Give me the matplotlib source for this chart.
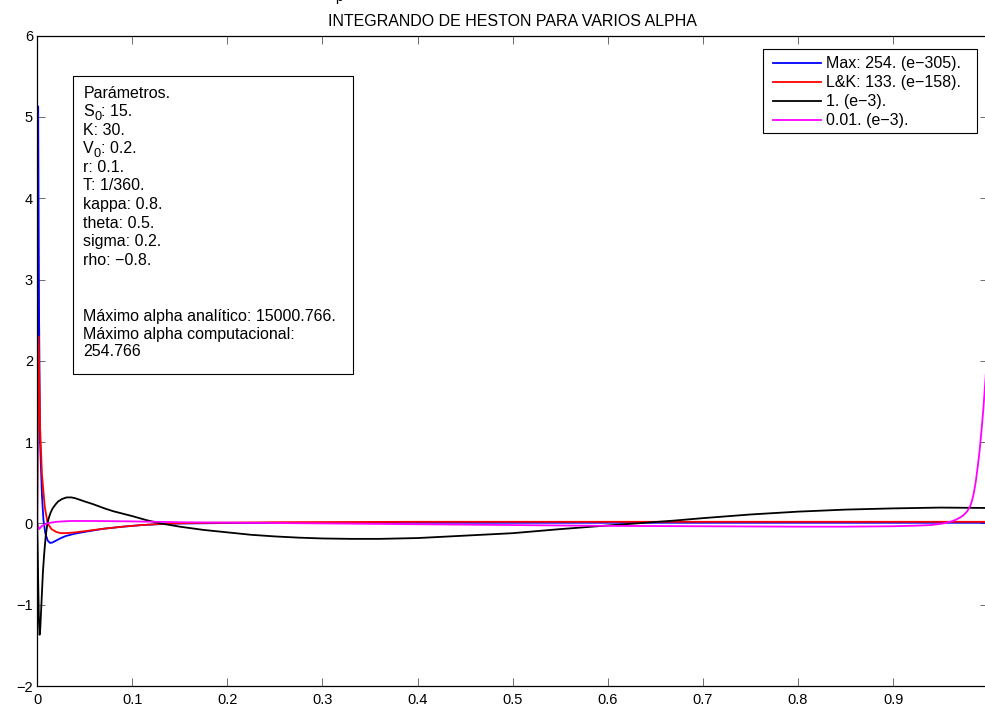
import matplotlib
matplotlib.use("Agg")
import matplotlib.pyplot as plt
from matplotlib.patches import Rectangle

plt.rcParams['font.family'] = ['Liberation Sans', 'DejaVu Sans']

# ############ Datos
x_max = [0, 0.001, 0.002, 0.003, 0.005, 0.0065, 0.0085, 0.011, 0.0135, 0.016, 0.02,
         0.025, 0.03, 0.04, 0.052, 0.07, 0.09, 0.11, 0.14, 0.2, 0.4, 0.6, 0.8, 1.0]
y_max = [0, 5.13, 2.5, 1.0, 0.35, 0.05, -0.12, -0.21, -0.24, -0.235, -0.21,
         -0.18, -0.155, -0.125, -0.1, -0.065, -0.04, -0.02, -0.003, 0.005, 0.008, 0.008, 0.008, 0.008]

x_lk = [0, 0.0015, 0.003, 0.005, 0.008, 0.011, 0.015, 0.02, 0.024, 0.0275, 0.032, 0.04,
        0.05, 0.07, 0.09, 0.11, 0.13, 0.16, 0.25, 0.4, 0.6, 0.8, 1.0]
y_lk = [0, 2.3, 1.2, 0.6, 0.2, 0.0, -0.07, -0.105, -0.118, -0.12, -0.118, -0.11,
        -0.095, -0.065, -0.04, -0.02, -0.005, 0.005, 0.015, 0.02, 0.02, 0.02, 0.02]

x_uno = [0, 0.0005, 0.001, 0.0018, 0.0025, 0.0032, 0.004, 0.005, 0.006, 0.0075, 0.009,
         0.0105, 0.012, 0.014, 0.016, 0.019, 0.022, 0.026, 0.031, 0.036, 0.04, 0.045,
         0.05, 0.058, 0.065, 0.072, 0.08, 0.09, 0.1, 0.115, 0.13, 0.15, 0.175, 0.2, 0.225,
         0.25, 0.275, 0.3, 0.33, 0.36, 0.4, 0.45, 0.5, 0.55, 0.6, 0.63, 0.67, 0.7, 0.75,
         0.8, 0.85, 0.9, 0.95, 1.0]
y_uno = [0, -0.3, -0.7, -1.2, -1.37, -1.3, -1.1, -0.85, -0.6, -0.35, -0.15,
         -0.02, 0.06, 0.13, 0.18, 0.23, 0.27, 0.3, 0.32, 0.32, 0.31, 0.29,
         0.27, 0.24, 0.21, 0.18, 0.15, 0.12, 0.09, 0.04, 0.0, -0.04, -0.08, -0.11, -0.14,
         -0.16, -0.175, -0.185, -0.19, -0.19, -0.18, -0.15, -0.12, -0.07, -0.025, 0.0, 0.035, 0.065, 0.11,
         0.145, 0.17, 0.185, 0.195, 0.19]

x_cent = [0, 0.002, 0.005, 0.01, 0.02, 0.035, 0.06, 0.1, 0.15, 0.2, 0.3, 0.4,
          0.5, 0.6, 0.7, 0.8, 0.85, 0.9, 0.93, 0.94, 0.95, 0.955, 0.96, 0.965, 0.97,
          0.974, 0.978, 0.981, 0.983, 0.985, 0.987, 0.989, 0.991, 0.993, 0.995, 0.997, 0.999]
y_cent = [0, -0.07, -0.03, 0.0, 0.02, 0.03, 0.03, 0.025, 0.015, 0.01, 0.0, -0.01,
          -0.02, -0.03, -0.035, -0.04, -0.04, -0.035, -0.025, -0.02, -0.005, 0.005, 0.02, 0.04, 0.07,
          0.1, 0.15, 0.21, 0.28, 0.38, 0.52, 0.7, 0.9, 1.15, 1.42, 1.75, 2.1]

etiquetas = ["Max: 254. (e\u2212305).", "L&K: 133. (e\u2212158).",
             "1. (e\u22123).", "0.01. (e\u22123)."]
colores = ["#0000ff", "#ff0000", "#000000", "#ff00ff"]

x_ticks = [0, 0.1, 0.2, 0.3, 0.4, 0.5, 0.6, 0.7, 0.8, 0.9]
x_tick_labels = ["0", "0.1", "0.2", "0.3", "0.4", "0.5", "0.6", "0.7", "0.8", "0.9"]
y_ticks = [-2, -1, 0, 1, 2, 3, 4, 5, 6]

# (texto, subindice, resto)
parametros = [("Parámetros.", "", ""), ("S", "0", ": 15."), ("K: 30.", "", ""),
              ("V", "0", ": 0.2."), ("r: 0.1.", "", ""), ("T: 1/360.", "", ""),
              ("kappa: 0.8.", "", ""), ("theta: 0.5.", "", ""), ("sigma: 0.2.", "", ""),
              ("rho: \u22120.8.", "", "")]
maximos = ["Máximo alpha analítico: 15000.766.", "Máximo alpha computacional:",
           "254.766"]

# ############ Figura
W, H = 985, 707
FS = 11.5
fig = plt.figure(figsize=(W / 100, H / 100), dpi=100)
ax = fig.add_axes([37.2 / W, 21 / H, 951 / W, 650.3 / H])

for xs, ys, c, lab in zip([x_max, x_lk, x_uno, x_cent], [y_max, y_lk, y_uno, y_cent],
                          colores, etiquetas):
    ax.plot(xs, ys, color=c, lw=1.3, label=lab)

ax.set_xlim(0, 1)
ax.set_ylim(-2, 6)
ax.set_xticks(x_ticks)
ax.set_xticklabels(x_tick_labels)
ax.set_yticks(y_ticks)
ax.tick_params(direction='in', length=6, width=0.6, labelsize=10.5, top=True, right=True,
               colors='#555555', labelcolor='black')
ax.tick_params(axis='x', pad=5)
ax.tick_params(axis='y', pad=3)
for s in ax.spines.values():
    s.set_linewidth(0.9)

ax.set_title("INTEGRANDO DE HESTON PARA VARIOS ALPHA", fontsize=FS, pad=7)

# Leyenda sin marco y caja dibujada aparte (estilo MATLAB)
leg = ax.legend(loc='upper left', bbox_to_anchor=((767.1 - 37.2) / 951, (686 - 50.7) / 650.3),
                borderaxespad=0, frameon=False, fontsize=FS,
                handlelength=3.05, handletextpad=0.3, labelspacing=0.25, borderpad=0.35)
leg.set_zorder(6)
ax.add_patch(Rectangle((762.7, H - 132.7), 214, 83.4, transform=None, facecolor='white',
                       edgecolor='black', lw=0.8, zorder=5))

# Caja de parametros
ax.add_patch(Rectangle((72.7, H - 374), 280.6, 298, transform=None, fill=False,
                       edgecolor='black', lw=0.8, zorder=5))
rend = fig.canvas.get_renderer()


def Linea(x_px, y_px, base, sub, resto):
    t = fig.text(x_px / W, 1 - y_px / H, base, fontsize=FS, va='baseline')
    if not sub:
        return
    x_px += t.get_window_extent(rend).width
    t = fig.text(x_px / W, 1 - (y_px + 4) / H, sub, fontsize=FS * 0.8, va='baseline')
    x_px += t.get_window_extent(rend).width
    fig.text(x_px / W, 1 - y_px / H, resto, fontsize=FS, va='baseline')


for i, (b, s, r) in enumerate(parametros):
    Linea(83.3, 97.5 + 18.6 * i, b, s, r)
for i, t in enumerate(maximos):
    Linea(83.3, 321 + 17.5 * i, t, "", "")

# Restos de texto cortado arriba
fig.text(335 / W, 1 - 1 / H, "p", fontsize=10, va='baseline')

fig.savefig("out.png", dpi=100)
